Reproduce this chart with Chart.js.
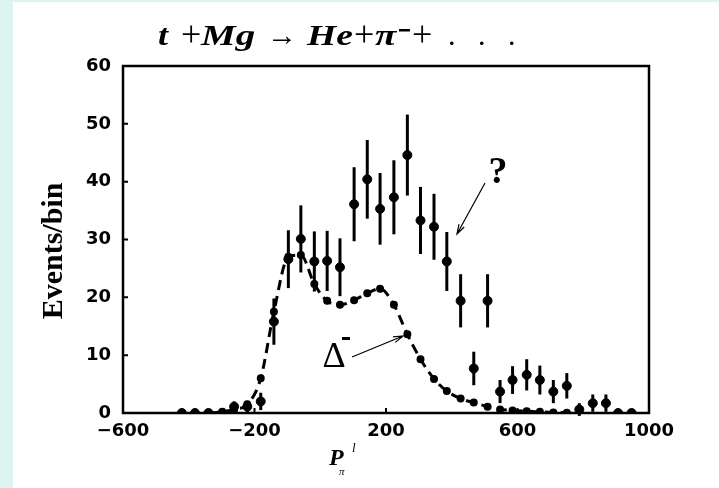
<!DOCTYPE html>
<html>
<head>
<meta charset="utf-8">
<script src="https://cdn.jsdelivr.net/npm/chart.js@4.4.1/dist/chart.umd.min.js"></script>
<style>
  html, body { margin: 0; padding: 0; background: #dcf5f1; }
  #wrap { position: relative; width: 719px; height: 488px; overflow: hidden; }
  #panel { position: absolute; left: 13px; top: 2px; right: 0; bottom: 0; background: #ffffff; }
  #chart { position: absolute; left: 0; top: 0; }
</style>
</head>
<body>
<div id="wrap">
  <div id="panel"></div>
  <canvas id="chart" width="719" height="488"></canvas>
</div>
<script>
// measured events per bin (P_pi^l bins)
const binX = [-421, -381, -340, -298, -262, -222, -181, -141, -97, -59, -18, 21, 60, 103, 143, 182, 224, 265, 305, 346, 385, 427, 467, 509, 547, 585, 628, 668, 709, 750, 788, 829, 869, 906, 947];
const events = [0, 0, 0, 0, 1.1, 1.1, 2, 15.8, 26.6, 30.1, 26.2, 26.3, 25.2, 36.1, 40.4, 35.3, 37.3, 44.6, 33.3, 32.2, 26.2, 19.4, 7.7, 19.4, 3.7, 5.7, 6.6, 5.7, 3.7, 4.7, 0.6, 1.7, 1.7, 0, 0];
const errors = [0, 0, 0, 0, 0.9, 1, 1.5, 4, 5, 5.8, 5.2, 5.2, 5, 6.4, 6.8, 6.2, 6.4, 7, 5.8, 5.7, 5.1, 4.6, 2.9, 4.6, 2, 2.4, 2.7, 2.5, 2, 2.2, 1.1, 1.5, 1.5, 0, 0];

// Delta- expectation (dashed curve)
const deltaX = [-340, -298, -262, -222, -181, -141, -97, -59, -18, 21, 60, 103, 143, 182, 224, 265, 305, 346, 385, 427, 467, 509, 547, 585, 628, 668, 709, 750, 788];
const deltaY = [0, 0.2, 0.6, 1.5, 6, 17.5, 27, 27.3, 22.3, 19.4, 18.7, 19.5, 20.7, 21.5, 18.7, 13.6, 9.3, 5.9, 3.8, 2.5, 1.8, 1.1, 0.6, 0.45, 0.3, 0.2, 0.1, 0.05, 0];

const xTicks = [-600, -200, 200, 600, 1000];
const yTicks = [0, 10, 20, 30, 40, 50, 60];

const serif = '"Liberation Serif", "Times New Roman", serif';

function arrow(ctx, x1, y1, x2, y2) {
    const a = Math.atan2(y2 - y1, x2 - x1);
    const h = 10;
    ctx.beginPath();
    ctx.moveTo(x1, y1);
    ctx.lineTo(x2, y2);
    ctx.moveTo(x2 - h * Math.cos(a - 0.3), y2 - h * Math.sin(a - 0.3));
    ctx.lineTo(x2, y2);
    ctx.lineTo(x2 - h * Math.cos(a + 0.3), y2 - h * Math.sin(a + 0.3));
    ctx.stroke();
}

// one piece of the title, stretched sideways like the scanned original
function seg(ctx, text, x, y, font, sx) {
    ctx.save();
    ctx.translate(x, y);
    ctx.scale(sx, 1);
    ctx.font = font;
    ctx.textAlign = 'left';
    ctx.textBaseline = 'alphabetic';
    ctx.fillText(text, 0, 0);
    ctx.restore();
}

const errorBars = {
    id: 'errorBars',
    beforeDatasetsDraw(chart) {
        const ctx = chart.ctx;
        const xs = chart.scales.x, ys = chart.scales.y;
        ctx.save();
        ctx.strokeStyle = '#000';
        ctx.lineWidth = 3;
        binX.forEach((x, i) => {
            if (!errors[i]) return;
            const px = xs.getPixelForValue(x);
            ctx.beginPath();
            ctx.moveTo(px, ys.getPixelForValue(events[i] - errors[i]));
            ctx.lineTo(px, ys.getPixelForValue(events[i] + errors[i]));
            ctx.stroke();
        });
        ctx.restore();
    }
};

const frame = {
    id: 'frame',
    afterDraw(chart) {
        const ctx = chart.ctx;
        const a = chart.chartArea;
        const xs = chart.scales.x, ys = chart.scales.y;
        ctx.save();
        ctx.strokeStyle = '#000';
        ctx.lineWidth = 2.5;
        ctx.strokeRect(a.left, a.top, a.right - a.left, a.bottom - a.top);

        // inward tick marks
        ctx.lineWidth = 2;
        ctx.beginPath();
        yTicks.slice(1, -1).forEach(v => {
            const py = ys.getPixelForValue(v);
            ctx.moveTo(a.left, py);
            ctx.lineTo(a.left + 5, py);
        });
        xTicks.slice(1, -1).forEach(v => {
            const px = xs.getPixelForValue(v);
            ctx.moveTo(px, a.bottom);
            ctx.lineTo(px, a.bottom - 5);
        });
        ctx.stroke();

        ctx.fillStyle = '#000';

        // title: t + Mg -> He + pi- + ...
        const bi = 'bold italic 30px ' + serif;
        const pl = '36px ' + serif;
        const rg = '30px ' + serif;
        seg(ctx, 't', 158, 45, bi, 1.2);
        seg(ctx, '+', 181, 46, pl, 1);
        seg(ctx, 'Mg', 201, 45, bi, 1.3);
        seg(ctx, '\u2192', 267, 45, rg, 1);
        seg(ctx, 'He', 307, 45, bi, 1.25);
        seg(ctx, '+', 354, 46, pl, 1);
        seg(ctx, '\u03C0', 375, 45, bi, 1.3);
        ctx.fillRect(399, 29, 11, 2.5);
        seg(ctx, '+', 412, 46, pl, 1);
        [452, 482, 512].forEach(x => seg(ctx, '.', x - 4, 45, rg, 1));

        ctx.textBaseline = 'middle';

        // y axis title
        ctx.save();
        ctx.translate(54, 251);
        ctx.rotate(-Math.PI / 2);
        ctx.textAlign = 'center';
        ctx.font = 'bold 30px ' + serif;
        ctx.fillText('Events/bin', 0, 0);
        ctx.restore();

        // x axis title P_pi^l
        ctx.textAlign = 'left';
        ctx.font = 'bold italic 24px ' + serif;
        ctx.fillText('P', 329, 459);
        ctx.font = 'italic 13px ' + serif;
        ctx.fillText('l', 352, 449);
        ctx.font = 'italic 11px ' + serif;
        ctx.fillText('\u03C0', 339, 472);

        // annotations
        ctx.textAlign = 'center';
        ctx.font = 'bold 38px ' + serif;
        ctx.fillText('?', 498, 173);
        ctx.font = '36px ' + serif;
        ctx.fillText('\u0394', 334, 358);
        ctx.fillRect(342, 337, 8, 3);

        ctx.lineWidth = 1.2;
        arrow(ctx, 485, 183, 457, 234);
        arrow(ctx, 352, 357, 403, 336);
        ctx.restore();
    }
};

new Chart(document.getElementById('chart'), {
    type: 'scatter',
    data: {
        datasets: [
            {
                type: 'line',
                label: 'Delta-',
                data: deltaX.map((x, i) => ({ x: x, y: deltaY[i] })),
                borderColor: '#000',
                backgroundColor: '#000',
                borderWidth: 3,
                borderDash: [10, 6],
                cubicInterpolationMode: 'monotone',
                pointRadius: 2.5,
                fill: false
            },
            {
                label: 'events',
                data: binX.map((x, i) => ({ x: x, y: events[i] })),
                backgroundColor: '#000',
                borderColor: '#000',
                pointRadius: 4.5
            }
        ]
    },
    options: {
        responsive: false,
        devicePixelRatio: 1,
        animation: false,
        layout: { padding: { left: 0, top: 66, right: 70, bottom: 0 } },
        plugins: { legend: { display: false }, tooltip: { enabled: false } },
        scales: {
            x: {
                type: 'linear',
                min: -600,
                max: 1000,
                afterFit: s => { s.height = 75; },
                afterBuildTicks: s => { s.ticks = xTicks.map(v => ({ value: v })); },
                grid: { display: false, drawTicks: false },
                border: { display: false },
                ticks: {
                    color: '#000',
                    padding: 8,
                    maxRotation: 0,
                    font: { family: '"DejaVu Sans", sans-serif', size: 18, weight: 'bold' },
                    callback: v => v < 0 ? '\u2212' + Math.abs(v) : String(v)
                }
            },
            y: {
                min: 0,
                max: 60,
                afterFit: s => { s.width = 123; },
                afterBuildTicks: s => { s.ticks = yTicks.map(v => ({ value: v })); },
                grid: { display: false, drawTicks: false },
                border: { display: false },
                ticks: {
                    color: '#000',
                    padding: 12,
                    font: { family: '"DejaVu Sans", sans-serif', size: 18, weight: 'bold' }
                }
            }
        }
    },
    plugins: [errorBars, frame]
});
</script>
</body>
</html>
